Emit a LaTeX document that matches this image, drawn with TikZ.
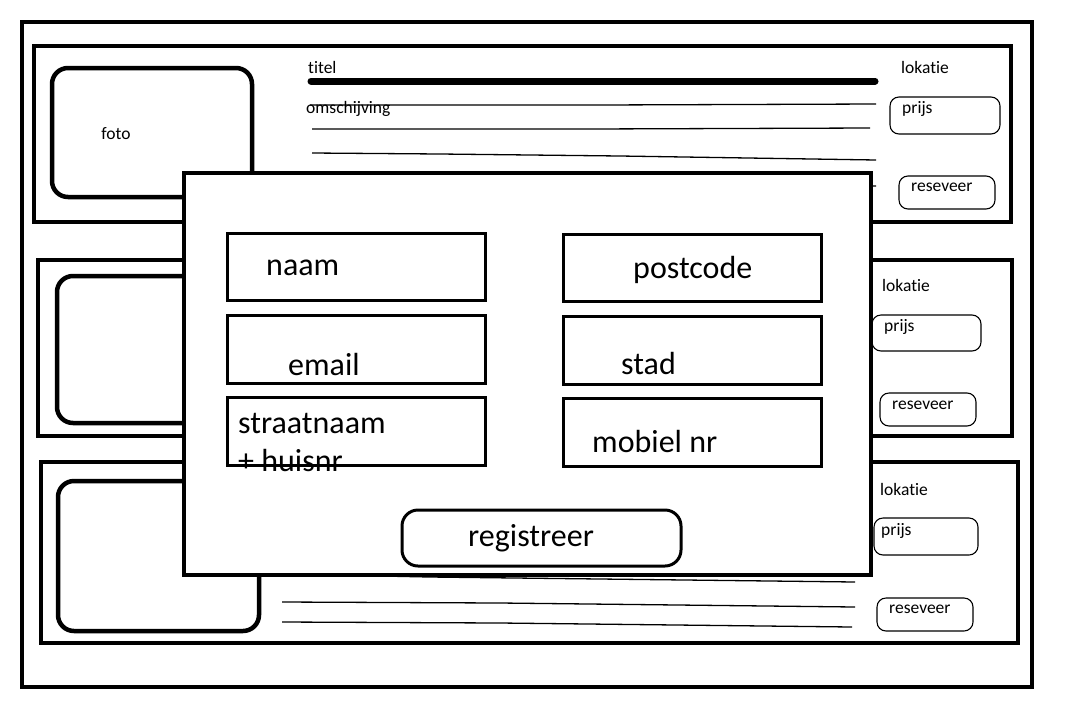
\documentclass[tikz,border=0pt]{standalone}
\usepackage{fontspec}
\setmainfont{Carlito}[Ligatures=NoCommon]
\begin{document}
\begin{tikzpicture}[x=1pt,y=-1pt,
    frame/.style={line width=4.5pt},
    fotobox/.style={line width=4.5pt,rounded corners=16pt},
    pill/.style={line width=1.1pt,rounded corners=9pt},
    streep/.style={line width=1.3pt},
    field/.style={line width=3pt},
    small/.style={anchor=west,inner sep=0pt,font=\fontsize{17.5}{20}\selectfont},
    big/.style={anchor=west,inner sep=0pt,font=\fontsize{32}{38}\selectfont}]
        \useasboundingbox (0,0) rectangle (1065,710);

        \draw[frame] (22,22) rectangle (1032,687);

        % eerste kaart
        \draw[frame] (34,46) rectangle (1011,222);
        \draw[fotobox] (52,68) rectangle (252,197);
        \node[small,anchor=center] (fotoA) at (116,134) {foto};
        \node[small] (titelA) at (308,67) {titel};
        \draw[line width=7pt,line cap=round] (311,81) -- (875,81);
        \draw[streep] (310,105) -- (600,105) -- (876,104);
        \node[small] (omschrA) at (306,109) {omschijving};
        \draw[streep] (312,129) -- (590,129) -- (870,128);
        \draw[streep] (312,153) -- (440,154) -- (620,156) -- (876,160);
        \draw[streep] (312,183) -- (876,186);
        \node[small] (lokatieA) at (901,67) {lokatie};
        \draw[pill] (890,97) rectangle (1000,134);
        \node[small] (prijsA) at (902,109) {prijs};
        \draw[pill] (899,176) rectangle (995,209);
        \node[small] (reseveerA) at (911,187) {reseveer};

        % tweede kaart
        \draw[frame] (38,260) rectangle (1012,436);
        \draw[fotobox] (57,276) rectangle (252,423);
        \node[small] (lokatieB) at (882,285) {lokatie};
        \draw[pill] (872,315) rectangle (981,351);
        \node[small] (prijsB) at (884,327) {prijs};
        \draw[pill] (880,393) rectangle (976,426);
        \node[small] (reseveerB) at (892,405) {reseveer};

        % derde kaart
        \draw[frame] (41,462) rectangle (1018,643);
        \draw[fotobox] (58,481) rectangle (259,631);
        \draw[streep] (282,574) -- (430,577) -- (855,582);
        \draw[streep] (282,602) -- (500,603) -- (855,607);
        \draw[streep] (282,622) -- (500,623) -- (852,627);
        \node[small] (lokatieC) at (880,489) {lokatie};
        \draw[pill] (874,518) rectangle (978,555);
        \node[small] (prijsC) at (881,531) {prijs};
        \draw[pill] (877,598) rectangle (973,631);
        \node[small] (reseveerC) at (889,609) {reseveer};

        % popup
        \draw[frame,fill=white] (184,173) rectangle (871,575);

        \draw[field] (227,233) rectangle (485,300);
        \node[big] (naam) at (266,268) {naam};
        \draw[field] (563,234) rectangle (821,301);
        \node[big] (postcode) at (633,270) {postcode};

        \draw[field] (227,315) rectangle (485,383);
        \node[big] (email) at (288,364) {email};
        \draw[field] (563,316) rectangle (821,384);
        \node[big] (stad) at (621,363) {stad};

        \draw[field] (227,397) rectangle (485,465);
        \node[big] (straat) at (238,423) {straatnaam};
        \node[big] (huisnr) at (238,460) {+ huisnr};
        \draw[field] (563,398) rectangle (821,466);
        \node[big] (mobiel) at (592,441) {mobiel nr};

        \draw[field,rounded corners=16pt] (402,510) rectangle (681,566);
        \node[big,anchor=center] (registreer) at (531,538) {registreer};
    \end{tikzpicture}
\end{document}
